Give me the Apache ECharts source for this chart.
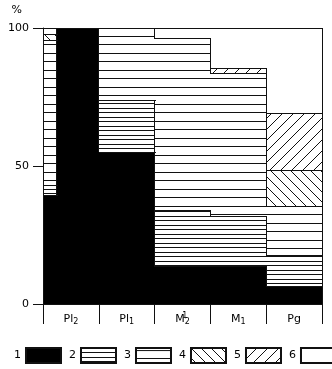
<!DOCTYPE html>
<html><head><meta charset="utf-8">
<script src="https://cdn.jsdelivr.net/npm/echarts@6/dist/echarts.min.js"></script>
<style>html,body{margin:0;padding:0;background:#fff}#c{width:332px;height:369px}</style>
</head><body><div id="c"></div>
<script>
// ---- data ----
const categories = ['Pl₂', 'Pl₁', 'M₂¹', 'M₁', 'Pg'];
const legendNames = ['1', '2', '3', '4', '5', '6'];
// Pl₂ is drawn as a narrow left part and a wide main part
const columnCategory = [0, 0, 1, 2, 3, 4];
const columnShare = [[0, 0.25], [0.25, 1], [0, 1], [0, 1], [0, 1], [0, 1]];
// percentage of each component (1..6) per column
const s1 = [39.4, 100, 55.0, 13.5, 13.5, 6.3];
const s2 = [3.6, 0, 18.6, 20.5, 18.3, 11.4];
const s3 = [52.3, 0, 26.4, 62.1, 51.6, 17.7];
const s4 = [2.5, 0, 0, 0, 0, 13.1];
const s5 = [0, 0, 0, 0, 1.8, 20.5];
const s6 = [2.2, 0, 0, 3.9, 14.8, 31.0];
const yMin = 0, yMax = 100, yStep = 50;

const values = [s1, s2, s3, s4, s5, s6];
const FONT = 'DejaVu Sans';
const INK = '#111';

function makePattern(w, h, draw) {
  const c = document.createElement('canvas');
  c.width = w; c.height = h;
  const ctx = c.getContext('2d');
  ctx.fillStyle = '#fff'; ctx.fillRect(0, 0, w, h);
  ctx.fillStyle = INK; ctx.strokeStyle = INK; ctx.lineWidth = 1;
  draw(ctx, w, h);
  return { image: c, repeat: 'repeat' };
}
const fills = [
  '#000',
  makePattern(8, 9, (ctx) => { ctx.fillRect(0, 0, 8, 1); ctx.fillRect(0, 4, 8, 1); }),
  makePattern(8, 17, (ctx) => { ctx.fillRect(0, 2, 8, 1); ctx.fillRect(0, 10, 8, 1); }),
  makePattern(10, 10, (ctx, s) => { ctx.beginPath(); [-s, 0, s].forEach(o => { ctx.moveTo(o, 0); ctx.lineTo(o + s, s); }); ctx.stroke(); }),
  makePattern(11, 11, (ctx, s) => { ctx.beginPath(); [-s, 0, s].forEach(o => { ctx.moveTo(o, s); ctx.lineTo(o + s, 0); }); ctx.stroke(); }),
  '#fff'
];

function colX(api, col) {
  const c = api.coord([columnCategory[col], 0]);
  const bw = api.size([1, 0])[0];
  const left = c[0] - bw / 2;
  return [left + columnShare[col][0] * bw, left + columnShare[col][1] * bw];
}
function yPix(api, v) { return api.coord([0, v])[1]; }
function segmentsOf(col) {
  const out = []; let acc = 0;
  values.forEach((arr, k) => { const v = arr[col]; if (v > 0) out.push({ k, y0: acc, y1: acc + v }); acc += v; });
  return out;
}
function patternAt(col, y) {
  if (col < 0 || col >= columnCategory.length) return -1;
  const s = segmentsOf(col).find(g => g.y0 <= y && y < g.y1);
  return s ? s.k : -1;
}

function barRenderer(k) {
  return function (params, api) {
    const col = params.dataIndex;
    const v = values[k][col];
    if (!(v > 0)) return null;
    let base = 0;
    for (let j = 0; j < k; j++) base += values[j][col];
    const xs = colX(api, col);
    const x0 = Math.round(xs[0]), x1 = Math.round(xs[1]);
    const yt = Math.round(yPix(api, base + v)), yb = Math.round(yPix(api, base));
    return { type: 'rect', shape: { x: x0, y: yt, width: x1 - x0, height: yb - yt }, style: { fill: fills[k], stroke: null } };
  };
}

function edgeRenderer(params, api) {
  const children = [];
  const px = v => Math.round(v) + 0.5;
  const line = (x1, y1, x2, y2) => children.push({ type: 'line', shape: { x1, y1, x2, y2 }, style: { stroke: INK, lineWidth: 1 } });
  const n = columnCategory.length;
  for (let col = 0; col < n; col++) {
    const xs = colX(api, col);
    segmentsOf(col).forEach(g => {
      const y = px(yPix(api, g.y1) - 0.5);
      line(Math.round(xs[0]), y, Math.round(xs[1]) + 1, y);
    });
  }
  for (let i = 0; i <= n; i++) {
    const x = i < n ? colX(api, i)[0] : colX(api, n - 1)[1];
    const ys = new Set();
    [i - 1, i].forEach(c => { if (c >= 0 && c < n) segmentsOf(c).forEach(g => { ys.add(g.y0); ys.add(g.y1); }); });
    const arr = Array.from(ys).sort((a, b) => a - b);
    for (let j = 0; j < arr.length - 1; j++) {
      const a = arr[j], b = arr[j + 1], mid = (a + b) / 2;
      if (patternAt(i - 1, mid) !== patternAt(i, mid)) {
        const xx = px(x - 0.5);
        line(xx, Math.round(yPix(api, a)), xx, Math.round(yPix(api, b)));
      }
    }
  }
  return { type: 'group', children };
}

const series = legendNames.map((name, k) => ({
  name, type: 'custom', renderItem: barRenderer(k),
  data: columnCategory.map((c, i) => [c, values[k][i]]),
  itemStyle: { color: fills[k], borderColor: INK, borderWidth: 1 },
  encode: { x: 0, y: 1 }, z: 2, silent: true
}));
series.push({ type: 'custom', renderItem: edgeRenderer, data: [[0, 0]], z: 3, silent: true, encode: { x: 0, y: 1 } });

function fmtCat(v) {
  return v.replace('₂¹', '{sup|1}{sub|2}').replace(/₁/g, '{sub|1}').replace(/₂/g, '{sub|2}').replace(/^([^{]+)/, '{b|$1}');
}

const chart = echarts.init(document.getElementById('c'), null, { renderer: 'canvas' });
chart.setOption({
  animation: false,
  backgroundColor: '#fff',
  grid: { left: 43, right: 10, top: 28, bottom: 65, containLabel: false },
  xAxis: {
    type: 'category', data: categories, boundaryGap: true,
    axisLine: { lineStyle: { color: INK, width: 1 } },
    axisTick: { show: true, length: 20, interval: 0, lineStyle: { color: INK, width: 1 } },
    axisLabel: {
      interval: 0, margin: 8, color: '#000', fontFamily: FONT, fontSize: 11,
      formatter: fmtCat,
      rich: {
        b: { fontFamily: FONT, fontSize: 11, lineHeight: 14, color: '#000' },
        sub: { fontFamily: FONT, fontSize: 8, lineHeight: 9, padding: [5, 0, 0, 0], color: '#000' },
        sup: { fontFamily: FONT, fontSize: 8, lineHeight: 9, padding: [0, 0, 6, 0], width: 0, color: '#000' }
      }
    },
    splitLine: { show: false }
  },
  yAxis: {
    type: 'value', min: yMin, max: yMax, interval: yStep,
    name: '%', nameLocation: 'end', nameGap: 12,
    nameTextStyle: { color: '#000', fontFamily: FONT, fontSize: 11, align: 'right', padding: [0, 21, 0, 0] },
    axisLine: { show: true, lineStyle: { color: INK, width: 1 } },
    axisTick: { show: true, length: 10, lineStyle: { color: INK, width: 1 } },
    axisLabel: { margin: 14, color: '#000', fontFamily: FONT, fontSize: 11 },
    splitLine: { show: false }
  },
  legend: {
    data: legendNames, left: 14, top: 347, padding: 0, width: 330,
    itemWidth: 35, itemHeight: 15, itemGap: 7, align: 'right', icon: 'rect',
    selectedMode: false, textStyle: { color: '#000', fontFamily: FONT, fontSize: 11 }
  },
  series
});
</script></body></html>
